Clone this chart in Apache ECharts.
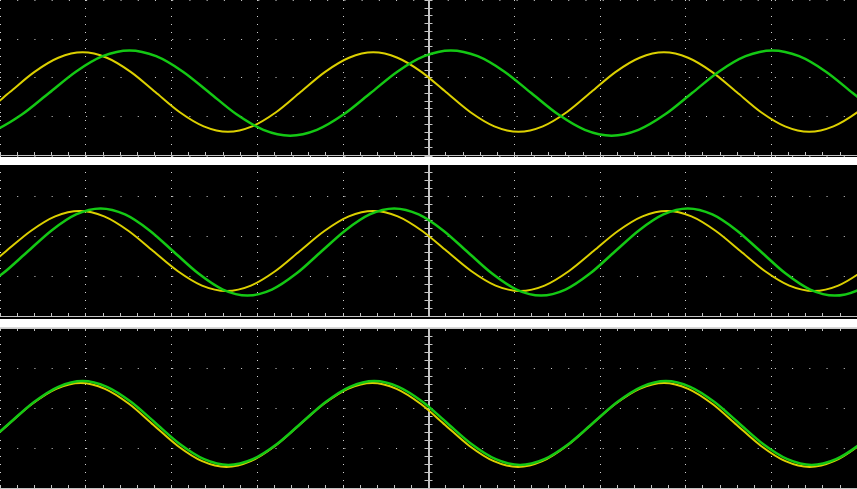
<!DOCTYPE html>
<html><head><meta charset="utf-8">
<script src="https://cdn.jsdelivr.net/npm/echarts@6/dist/echarts.min.js"></script>
<style>html,body{margin:0;padding:0;background:#000}#c{width:857px;height:489px}</style>
</head><body><div id="c"></div>
<script>
// x: horizontal divisions (screen centre = 0), y: vertical divisions above each panel's bottom edge
const p1YellowX = [-5.449,-5.167,-4.884,-4.601,-4.319,-4.036,-3.754,-3.471,-3.188,-2.906,-2.623,-2.340,-2.058,-1.775,-1.493,-1.210,-0.927,-0.645,-0.362,-0.079,0.203,0.486,0.768,1.051,1.334,1.616,1.899,2.181,2.464,2.747,3.029,3.312,3.595,3.877,4.160,4.442,4.725,5.008,5.290];
const p1YellowY = [0.74,1.11,
  1.625,2.14,2.51,2.65,2.51,2.14,1.625,1.11,0.74,0.60,0.74,1.11,
  1.625,2.14,2.51,2.65,2.51,2.14,1.625,1.11,0.74,0.60,0.74,1.11,
  1.625,2.14,2.51,2.65,2.51,2.14,1.625,1.11,0.74,0.60,0.74,1.11,
  1.625];
const p1GreenX = [-5.366,-5.053,-4.741,-4.428,-4.115,-3.803,-3.490,-3.178,-2.865,-2.552,-2.240,-1.927,-1.614,-1.302,-0.989,-0.676,-0.364,-0.051,0.261,0.574,0.887,1.199,1.512,1.824,2.137,2.450,2.762,3.075,3.387,3.700,4.013,4.325,4.638,4.950,5.263];
const p1GreenY = [0.50,0.65,1.05,
  1.60,2.15,2.55,2.70,2.55,2.15,1.60,1.05,0.65,0.50,0.65,1.05,
  1.60,2.15,2.55,2.70,2.55,2.15,1.60,1.05,0.65,0.50,0.65,1.05,
  1.60,2.15,2.55,2.70,2.55,2.15,1.60,1.05];

const p2YellowX = [-5.498,-5.213,-4.927,-4.641,-4.356,-4.070,-3.785,-3.499,-3.214,-2.928,-2.643,-2.357,-2.072,-1.786,-1.501,-1.215,-0.930,-0.644,-0.359,-0.073,0.212,0.498,0.783,1.069,1.354,1.640,1.926,2.211,2.497,2.782,3.068,3.353,3.639,3.924,4.210,4.495,4.781,5.066,5.352];
const p2YellowY = [0.76,1.125,
  1.625,2.125,2.49,2.625,2.49,2.125,1.625,1.125,0.76,0.625,0.76,1.125,
  1.625,2.125,2.49,2.625,2.49,2.125,1.625,1.125,0.76,0.625,0.76,1.125,
  1.625,2.125,2.49,2.625,2.49,2.125,1.625,1.125,0.76,0.625,0.76,1.125,
  1.625];
const p2GreenX = [-5.540,-5.254,-4.969,-4.683,-4.398,-4.112,-3.827,-3.541,-3.255,-2.970,-2.684,-2.399,-2.113,-1.828,-1.542,-1.257,-0.971,-0.686,-0.400,-0.115,0.171,0.456,0.742,1.027,1.313,1.598,1.884,2.169,2.455,2.741,3.026,3.312,3.597,3.883,4.168,4.454,4.739,5.025,5.310];
const p2GreenY = [0.51,0.66,1.06,
  1.60,2.14,2.54,2.69,2.54,2.14,1.60,1.06,0.66,0.51,0.66,1.06,
  1.60,2.14,2.54,2.69,2.54,2.14,1.60,1.06,0.66,0.51,0.66,1.06,
  1.60,2.14,2.54,2.69,2.54,2.14,1.60,1.06,0.66,0.51,0.66,1.06];

const p3YellowX = [-5.477,-5.194,-4.910,-4.626,-4.343,-4.059,-3.776,-3.492,-3.209,-2.925,-2.641,-2.358,-2.074,-1.791,-1.507,-1.223,-0.940,-0.656,-0.373,-0.089,0.194,0.478,0.762,1.045,1.329,1.612,1.896,2.180,2.463,2.747,3.030,3.314,3.597,3.881,4.165,4.448,4.732,5.015,5.299];
const p3YellowY = [0.67,1.05,
  1.575,2.10,2.48,2.625,2.48,2.10,1.575,1.05,0.67,0.525,0.67,1.05,
  1.575,2.10,2.48,2.625,2.48,2.10,1.575,1.05,0.67,0.525,0.67,1.05,
  1.575,2.10,2.48,2.625,2.48,2.10,1.575,1.05,0.67,0.525,0.67,1.05,
  1.575];
const p3GreenX = [-5.454,-5.171,-4.887,-4.603,-4.320,-4.036,-3.753,-3.469,-3.186,-2.902,-2.618,-2.335,-2.051,-1.768,-1.484,-1.200,-0.917,-0.633,-0.350,-0.066,0.217,0.501,0.785,1.068,1.352,1.635,1.919,2.203,2.486,2.770,3.053,3.337,3.620,3.904,4.188,4.471,4.755,5.038,5.322];
const p3GreenY = [0.72,1.10,
  1.625,2.15,2.53,2.675,2.53,2.15,1.625,1.10,0.72,0.575,0.72,1.10,
  1.625,2.15,2.53,2.675,2.53,2.15,1.625,1.10,0.72,0.575,0.72,1.10,
  1.625,2.15,2.53,2.675,2.53,2.15,1.625,1.10,0.72,0.575,0.72,1.10,
  1.625];

const YELLOW = '#dcd000', GREEN = '#14c814', LINE_C = '#c4c4c4', DOT_C = '#d0d0d0';
const zip = (xs, ys) => xs.map((x, i) => [x, ys[i]]);

const grids = [
  {left: -2, width: 861, top: -5, height: 160},
  {left: -2, width: 861, top: 156, height: 160},
  {left: -2, width: 861, top: 328, height: 160}
];
function xAx(g, pos, split) {
  return {type: 'value', gridIndex: g, min: -5, max: 5, interval: 1, position: pos,
    axisLine: {show: true, onZero: false, lineStyle: {color: LINE_C, width: 1}},
    axisTick: {show: true, inside: true, length: 3, lineStyle: {color: LINE_C, width: 1}},
    minorTick: {show: true, splitNumber: 5, length: 3, lineStyle: {color: LINE_C, width: 1}},
    axisLabel: {show: false},
    splitLine: {show: split, lineStyle: {color: DOT_C, width: 1, type: [1, 7]}},
    minorSplitLine: {show: false}};
}
function yAx(g, pos, xIdx, split) {
  return {type: 'value', gridIndex: g, min: 0, max: 4, interval: 1, position: pos,
    axisLine: {show: true, onZero: true, onZeroAxisIndex: xIdx, lineStyle: {color: LINE_C, width: 2}},
    axisTick: {show: true, inside: true, length: 4, lineStyle: {color: LINE_C, width: 1}},
    minorTick: {show: true, splitNumber: 5, length: 4, lineStyle: {color: LINE_C, width: 1}},
    axisLabel: {show: false},
    splitLine: {show: split, lineStyle: {color: DOT_C, width: 1, type: [1, 16.22]}},
    minorSplitLine: {show: false}};
}
function wave(g, xs, ys, color, w) {
  return {type: 'line', xAxisIndex: g, yAxisIndex: 2 * g, data: zip(xs, ys), smooth: 0.3,
    showSymbol: false, symbol: 'none', clip: true, lineStyle: {color: color, width: w}, z: 5};
}
const chart = echarts.init(document.getElementById('c'), null, {renderer: 'canvas'});
chart.setOption({
  backgroundColor: '#000',
  animation: false,
  grid: grids,
  xAxis: [xAx(0, 'bottom', true), xAx(1, 'bottom', true), xAx(2, 'bottom', true), xAx(2, 'top', false)],
  yAxis: [yAx(0, 'left', 0, true), yAx(0, 'right', 0, false),
          yAx(1, 'left', 1, true), yAx(1, 'right', 1, false),
          yAx(2, 'left', 2, true), yAx(2, 'right', 2, false)],
  series: [
    wave(0, p1YellowX, p1YellowY, YELLOW, 2), wave(0, p1GreenX, p1GreenY, GREEN, 2.5),
    wave(1, p2YellowX, p2YellowY, YELLOW, 2), wave(1, p2GreenX, p2GreenY, GREEN, 2.5),
    wave(2, p3YellowX, p3YellowY, YELLOW, 2), wave(2, p3GreenX, p3GreenY, GREEN, 2.5)
  ],
  graphic: [
    {type: 'rect', z: 100, shape: {x: 0, y: 157, width: 857, height: 8}, style: {fill: '#ffffff'}},
    {type: 'rect', z: 100, shape: {x: 0, y: 319, width: 857, height: 8}, style: {fill: '#ffffff'}},
    {type: 'rect', z: 100, shape: {x: 0, y: 327, width: 857, height: 1.2}, style: {fill: '#d8d8d8'}}
  ]
});
</script></body></html>
